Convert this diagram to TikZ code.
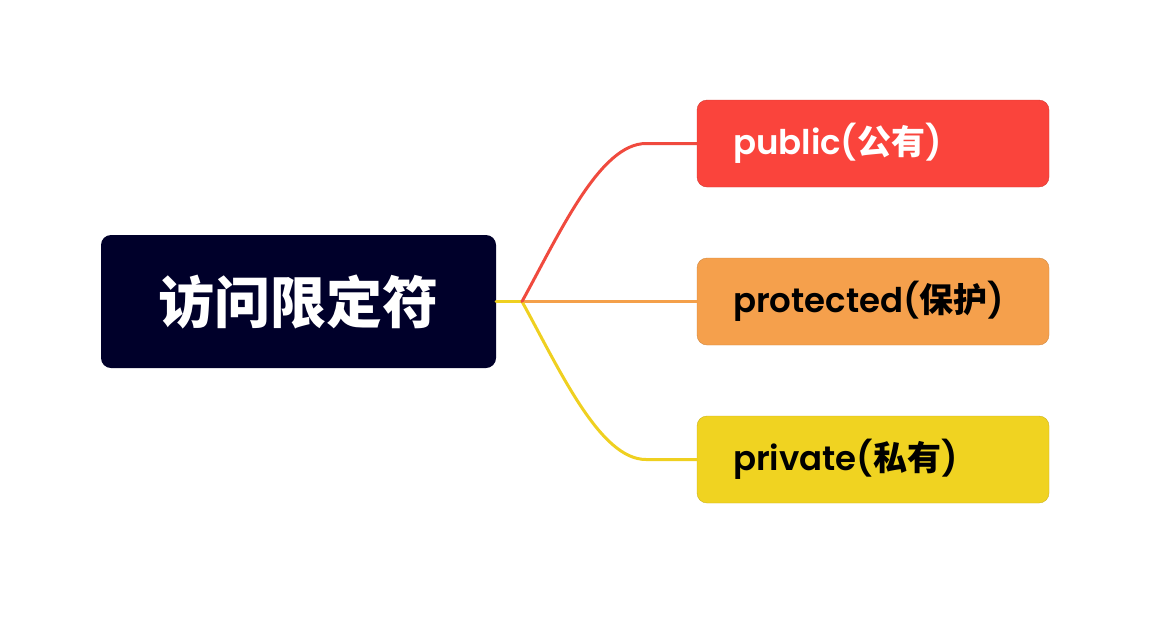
\documentclass[tikz,border=0pt]{standalone}
\usepackage{fontspec}
\setmainfont{Poppins}[BoldFont={Poppins SemiBold}]
\newfontfamily\cjk{Noto Sans CJK SC}
\definecolor{navy}{HTML}{00002A}
\definecolor{cred}{HTML}{FA443C}
\definecolor{corange}{HTML}{F5A04C}
\definecolor{cyellow}{HTML}{F0D321}
\definecolor{lred}{HTML}{F04A3E}
\definecolor{lorange}{HTML}{F4A04A}
\definecolor{lyellow}{HTML}{EFD020}
\begin{document}
\begin{tikzpicture}[x=1pt,y=-1pt,
  rootbox/.style={fill=navy, rounded corners=10pt, minimum width=395pt, minimum height=133pt, inner sep=0pt, text=white, font=\cjk\bfseries\fontsize{56}{60}\selectfont},
  leafbox/.style={rounded corners=10pt, minimum height=87pt, text width=280pt, inner xsep=36pt, inner ysep=0pt, align=left, font=\bfseries\fontsize{34}{38}\selectfont},
  link/.style={line width=3pt, line cap=round}]
\useasboundingbox (0,0) rectangle (1150,622);
\node[rootbox] (root) at (298.5,301.5) {访问限定符};
\node[leafbox, fill=cred, draw=cred!85!black, line width=0.4pt, text=white] (pub) at (873,143.5) {public({\cjk\bfseries 公有})};
\node[leafbox, fill=corange, draw=corange!85!black, line width=0.4pt, text=black] (pro) at (873,301.5) {protected({\cjk\bfseries 保护})};
\node[leafbox, fill=cyellow, draw=cyellow!85!black, line width=0.4pt, text=black] (pri) at (873,459.5) {private({\cjk\bfseries 私有})};
\coordinate (j) at (522,301.5);
\coordinate (pa) at (646,143.5);
\coordinate (pb) at (646,459.5);
\draw[link, lyellow] (root.east) -- (j);
\draw[link, lorange] (j) -- (pro.west);
\draw[link, lyellow] (j) .. controls (560,370.5) and (600,459.5) .. (pb) -- (pri.west);
\draw[link, lred] (j) .. controls (560,232.5) and (600,143.5) .. (pa) -- (pub.west);
\end{tikzpicture}
\end{document}
